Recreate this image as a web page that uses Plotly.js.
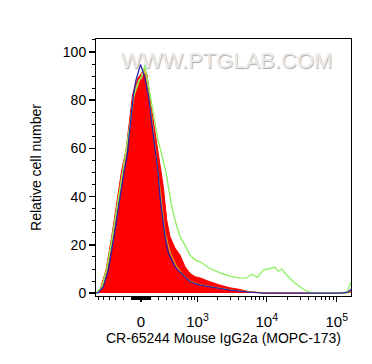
<!DOCTYPE html>
<html>
<head>
<meta charset="utf-8">
<script src="https://cdn.plot.ly/plotly-3.0.1.min.js"></script>
<style>html,body{margin:0;padding:0;background:#fff;}#chart{width:372px;height:364px;}</style>
</head>
<body>
<div id="chart"></div>
<script>
// Histogram bins on the biexponential display scale (units: decades of asinh(v/320)/ln10)
const redX = [-0.600,-0.586,-0.500,-0.419,-0.347,-0.276,-0.214,-0.164,-0.121,-0.079,-0.043,0.000,0.029,0.057,0.086,0.119,0.176,0.247,0.296,0.319,0.343,0.367,0.414,0.486,0.557,0.629,0.700,0.771,0.843,0.914,0.986,1.129,1.271,1.414,1.557,1.743,1.986,2.500,2.914,2.957,3.000];
const redY = [0,1.2,9.5,23.4,37.3,51.0,59.3,71.0,82.2,86.3,89.2,90.9,92.1,90.5,90.9,82.2,71.0,57.3,49.0,44.1,37.3,30.3,23.4,18.7,15.8,10.9,8.2,6.8,6.3,5.4,4.7,3.3,2.2,1.5,0.5,0.1,0,0,0,0.3,0.8];

const greenX = [-0.643,-0.614,-0.557,-0.490,-0.429,-0.333,-0.257,-0.200,-0.157,-0.114,-0.071,-0.029,0.007,0.036,0.057,0.081,0.129,0.200,0.243,0.296,0.357,0.429,0.486,0.557,0.629,0.700,0.771,0.843,0.986,1.129,1.271,1.414,1.510,1.581,1.661,1.747,1.843,1.914,1.961,2.010,2.081,2.176,2.271,2.367,2.461,2.700,2.914,2.957,3.000];
const greenY = [0.2,0.8,2.5,9.5,19.9,37.3,51.0,60.2,69.7,80.1,85.1,88.4,89.2,92.5,94.8,90.5,82.2,71.0,63.5,57.3,50.2,37.3,30.3,23.4,19.9,15.8,13.8,13.0,10.2,8.4,7.0,6.2,6.3,7.8,6.5,9.5,10.2,10.7,9.1,10.0,7.5,4.7,2.6,0.8,0,0,0,1.2,4.7];

const yellowX = [-0.629,-0.571,-0.500,-0.414,-0.329,-0.257,-0.186,-0.143,-0.100,-0.057,-0.014,0.021,0.043,0.071,0.107,0.157,0.214,0.257,0.300,0.343,0.414,0.500,0.586,0.700,0.843,1.057,1.271,1.557,1.843,2.914,3.000];
const yellowY = [0.4,2.1,9.1,22.0,37.3,50.2,63.5,73.9,82.2,85.1,88.4,91.7,93.4,90.0,83.4,71.8,57.3,47.7,36.5,25.3,17.0,11.5,8.0,5.0,3.4,2.4,1.4,0.5,0,0,0.4];

const blueX = [-0.643,-0.614,-0.539,-0.467,-0.386,-0.314,-0.239,-0.196,-0.147,-0.110,-0.071,-0.036,-0.007,0.029,0.057,0.104,0.153,0.210,0.247,0.271,0.319,0.343,0.390,0.486,0.557,0.629,0.700,0.843,0.986,1.129,1.271,1.510,1.747,1.986,2.271,2.557,2.843,2.957,3.000];
const blueY = [0,0.2,2.6,9.5,23.4,37.3,51.0,57.3,71.0,82.2,88.4,91.7,94.8,91.7,89.2,82.2,71.0,57.3,49.0,40.0,30.3,23.4,16.6,10.9,8.7,6.8,4.7,3.3,2.6,2.0,1.2,0.5,0,0,0,0,0,0.4,1.6];

// Axis tick values in raw fluorescence intensity
const majorTickValues = [0, 1e3, 1e4, 1e5];
const majorTickLabels = ['0', '10<sup>3</sup>', '10<sup>4</sup>', '10<sup>5</sup>'];
const minorTickValues = [-600,-500,-400,-300,-200,-100,-90,-80,-70,-60,-50,-40,-30,-20,-10,10,20,30,40,50,60,70,80,90,100,200,300,400,500,600,700,800,900,2000,3000,4000,5000,6000,7000,8000,9000,20000,30000,40000,50000,60000,70000,80000,90000];

const W = 320;
function biex(v) { return Math.asinh(v / W) / Math.LN10; }

const font = 'Liberation Sans, Arial, Helvetica, sans-serif';

const traces = [
  {x: redX, y: redY, type: 'scatter', mode: 'lines', fill: 'tozeroy', fillcolor: '#ff0000', line: {color: '#ff0000', width: 1}, hoverinfo: 'skip'},
  {x: yellowX, y: yellowY, type: 'scatter', mode: 'lines', line: {color: '#e0a020', width: 1.2}, hoverinfo: 'skip'},
  {x: greenX, y: greenY, type: 'scatter', mode: 'lines', line: {color: '#8cf060', width: 1.3}, hoverinfo: 'skip'},
  {x: blueX, y: blueY, type: 'scatter', mode: 'lines', line: {color: '#2a22a8', width: 1.3}, hoverinfo: 'skip'}
];

const layout = {
  width: 372, height: 364,
  margin: {l: 96, r: 21, t: 39, b: 68},
  paper_bgcolor: '#fff', plot_bgcolor: '#fff',
  showlegend: false,
  font: {family: font, color: '#000', size: 14},
  xaxis: {
    range: [-0.643, 3.0],
    showline: true, mirror: true, linecolor: '#000', linewidth: 1,
    showgrid: false, zeroline: false,
    ticks: 'outside', ticklen: 5, tickwidth: 1.5, tickcolor: '#000',
    tickmode: 'array', tickvals: majorTickValues.map(biex), ticktext: majorTickLabels,
    tickfont: {size: 15, family: font},
    ticklabelstandoff: 7,
    minor: {tickmode: 'array', tickvals: minorTickValues.map(biex), ticks: 'outside', ticklen: 3, tickwidth: 1, tickcolor: '#000', showgrid: false},
    title: {text: 'CR-65244 Mouse IgG2a (MOPC-173)', font: {size: 14, family: font}, standoff: 3}
  },
  yaxis: {
    range: [-1.2, 105.4],
    showline: true, mirror: true, linecolor: '#000', linewidth: 1,
    showgrid: false, zeroline: false,
    ticks: 'outside', ticklen: 6, tickwidth: 1.5, tickcolor: '#000',
    tickmode: 'array', tickvals: [0, 20, 40, 60, 80, 100],
    tickfont: {size: 14, family: font},
    minor: {dtick: 5, tick0: 0, ticks: 'outside', ticklen: 3, tickwidth: 1, tickcolor: '#000', showgrid: false},
    title: {text: 'Relative cell number', font: {size: 14, family: font}, standoff: 17}
  },
  annotations: [{
    text: 'WWW.PTGLAB.COM', xref: 'paper', yref: 'paper', x: 0.5125, y: 0.918,
    xanchor: 'center', yanchor: 'middle', showarrow: false,
    font: {size: 22, family: font, color: '#ebebeb', shadow: '0.7px 0.7px 0.8px #a8a8a8'}
  }]
};

Plotly.newPlot('chart', traces, layout, {staticPlot: true, displayModeBar: false});
</script>
</body>
</html>
